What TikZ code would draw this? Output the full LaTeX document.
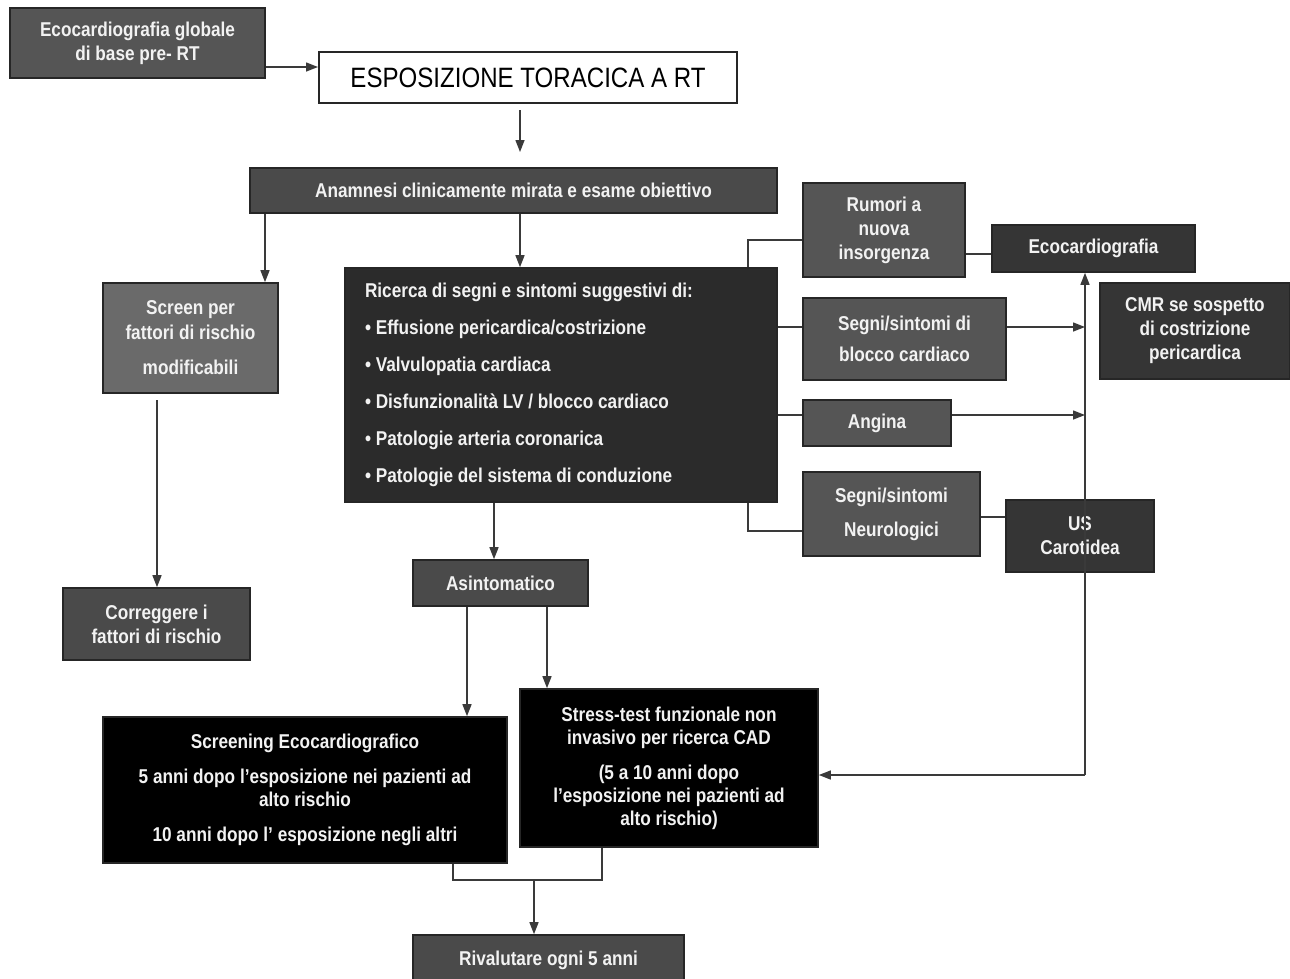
\documentclass[tikz,border=0pt]{standalone}
\usepackage{fontspec}
\setmainfont{Liberation Sans}[FakeStretch=0.86]
\usetikzlibrary{arrows.meta}
\definecolor{gA}{HTML}{555555}
\definecolor{gB}{HTML}{4A4A4A}
\definecolor{gC}{HTML}{6A6A6A}
\definecolor{gD}{HTML}{2B2B2B}
\definecolor{gE}{HTML}{353535}
\definecolor{ln}{HTML}{3A3A3A}
\definecolor{tx}{HTML}{F2F2F2}
\tikzset{
  box/.style={draw=black!85, line width=1.6pt, text=tx, align=center, inner sep=0pt,
    font=\fontsize{20}{24}\selectfont\bfseries},
  conn/.style={draw=ln, line width=1.4pt},
  arr/.style={conn, -{Triangle[length=12pt,width=9pt]}},
}
\begin{document}
\begin{tikzpicture}[x=1pt,y=-1pt]
\useasboundingbox (0,0) rectangle (1290,978);
% boxes
\node[box, fill=gA, minimum width=255, minimum height=70] (eco0) at (137.5,43) {Ecocardiografia globale\\di base pre- RT};
\node[box, fill=white, text=black, line width=2pt, minimum width=418, minimum height=51, font=\fontsize{28}{30}\selectfont] (esp) at (528,77.5) {ESPOSIZIONE TORACICA A RT};
\node[box, fill=gB, minimum width=527, minimum height=45] (anam) at (513.5,190.5) {Anamnesi clinicamente mirata e esame obiettivo};
\node[box, fill=gC, minimum width=175, minimum height=110, font=\fontsize{20}{25}\selectfont\bfseries] (scr) at (190.5,338) {Screen per\\fattori di rischio\\[10pt]modificabili};
\node[box, fill=gD, minimum width=432, minimum height=234, align=left] (ric) at (561,385)
  {\parbox[c]{392pt}{\fontsize{20}{37}\selectfont\bfseries Ricerca di segni e sintomi suggestivi di:\\
  \textbullet\ Effusione pericardica/costrizione\\
  \textbullet\ Valvulopatia cardiaca\\
  \textbullet\ Disfunzionalità LV / blocco cardiaco\\
  \textbullet\ Patologie arteria coronarica\\
  \textbullet\ Patologie del sistema di conduzione}};
\node[box, fill=gB, minimum width=187, minimum height=72] (corr) at (156.5,624) {Correggere i\\fattori di rischio};
\node[box, fill=gB, minimum width=175, minimum height=46] (asin) at (500.5,583) {Asintomatico};
\node[box, fill=black, minimum width=404, minimum height=146, font=\fontsize{20}{23}\selectfont\bfseries] (scre) at (305,790)
  {Screening Ecocardiografico\\[12pt]5 anni dopo l'esposizione nei pazienti ad\\alto rischio\\[12pt]10 anni dopo l' esposizione negli altri};
\node[box, fill=black, minimum width=298, minimum height=158, font=\fontsize{20}{23}\selectfont\bfseries] (stress) at (669,768)
  {Stress-test funzionale non\\invasivo per ricerca CAD\\[12pt](5 a 10 anni dopo\\l'esposizione nei pazienti ad\\alto rischio)};
\node[box, fill=gB, minimum width=271, minimum height=50] (riv) at (548.5,960) {Rivalutare ogni 5 anni};
% right column
\node[box, fill=gA, minimum width=162, minimum height=94] (rum) at (884,230) {Rumori a\\nuova\\insorgenza};
\node[box, fill=gA, minimum width=203, minimum height=82, font=\fontsize{20}{31}\selectfont\bfseries] (blo) at (904.5,339) {Segni/sintomi di\\blocco cardiaco};
\node[box, fill=gA, minimum width=148, minimum height=46] (ang) at (877,423) {Angina};
\node[box, fill=gA, minimum width=177, minimum height=84, font=\fontsize{20}{34}\selectfont\bfseries] (neu) at (891.5,514) {Segni/sintomi\\Neurologici};
\node[box, fill=gE, minimum width=203, minimum height=47] (ecoc) at (1093.5,248.5) {Ecocardiografia};
\node[box, fill=gE, minimum width=190, minimum height=96] (cmr) at (1195,331) {CMR se sospetto\\di costrizione\\pericardica};
\node[box, fill=gE, minimum width=148, minimum height=72] (us) at (1080,536) {US\\Carotidea};
% connectors
\draw[arr] (eco0.east |- 0,67) -- (esp.west |- 0,67);
\draw[arr] (520,110) -- (520,152);
\draw[arr] (anam.south -| 265,0) -- (scr.north -| 265,0);
\draw[arr] (anam.south -| 520,0) -- (ric.north -| 520,0);
\draw[arr] (157,400) -- (corr.north -| 157,0);
\draw[arr] (ric.south -| 494,0) -- (asin.north -| 494,0);
\draw[arr] (asin.south -| 467,0) -- (scre.north -| 467,0);
\draw[arr] (asin.south -| 547,0) -- (stress.north -| 547,0);
\coordinate (j1) at (534,880);
\draw[conn] (scre.south -| 453,0) |- (j1) -| (stress.south -| 602,0);
\draw[arr] (j1) -- (riv.north -| 534,0);
\draw[conn] (ric.north -| 748,0) |- (rum.west |- 0,240);
\draw[conn] (rum.east |- 0,254) -- (ecoc.west |- 0,254);
\draw[conn] (ric.east |- 0,327) -- (blo.west |- 0,327);
\draw[conn] (ric.east |- 0,415) -- (ang.west |- 0,415);
\draw[conn] (ric.south -| 748,0) |- (neu.west |- 0,531);
\draw[conn] (neu.east |- 0,517) -- (us.west |- 0,517);
\coordinate (vt) at (1085,327);
\coordinate (va) at (1085,415);
\draw[arr] (blo.east |- 0,327) -- (vt);
\draw[arr] (ang.east |- 0,415) -- (va);
\coordinate (vb) at (1085,775);
\draw[arr] (vb) -- (ecoc.south -| 1085,0);
\draw[arr] (vb) -- (stress.east |- 0,775);
\end{tikzpicture}
\end{document}
